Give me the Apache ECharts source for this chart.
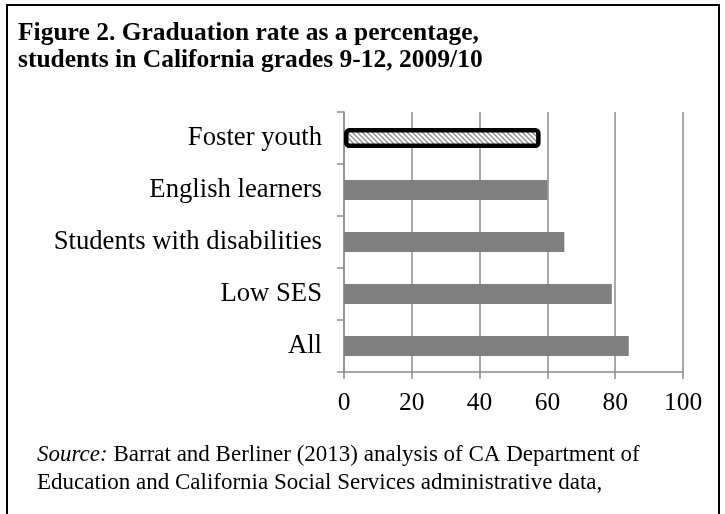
<!DOCTYPE html>
<html>
<head>
<meta charset="UTF-8">
<title>Graduation rate</title>
<script type="text/javascript" src="https://cdn.jsdelivr.net/npm/echarts@6/dist/echarts.min.js"></script>
<style>
	body { margin: 0; background: #fff; }
</style>
</head>
<body>
<div id="main" style="width: 725px; height: 514px"></div>

<script type="text/javascript">
	// data
	var groups = ['Foster youth', 'English learners', 'Students with disabilities', 'Low SES', 'All'];
	var rates = [58, 60, 65, 79, 84];
	var xTicks = [0, 20, 40, 60, 80, 100];

	// hatch fill for the foster youth bar
	function makeHatch() {
		var c = document.createElement('canvas');
		c.width = 5; c.height = 5;
		var ctx = c.getContext('2d');
		ctx.fillStyle = '#fff';
		ctx.fillRect(0, 0, 5, 5);
		ctx.strokeStyle = '#8f8f8f';
		ctx.lineWidth = 1.4;
		ctx.beginPath();
		ctx.moveTo(-1, -1); ctx.lineTo(6, 6);
		ctx.moveTo(-6, -1); ctx.lineTo(1, 6);
		ctx.moveTo(4, -1); ctx.lineTo(11, 6);
		ctx.stroke();
		return c;
	}
	var hatch = makeHatch();

	var barData = [];
	for (var i = 0; i < groups.length; i++) {
		if (i == 0) {
			barData.push({
				value: rates[i],
				itemStyle: {
					color: { image: hatch, repeat: 'repeat' },
					borderColor: '#000',
					borderWidth: 4.5,
					borderRadius: 3
				}
			});
		} else {
			barData.push(rates[i]);
		}
	}

	var mychart = echarts.init(document.getElementById('main'));
	var font = 'Liberation Serif';
	var option = {
		animation: false,
		backgroundColor: '#fff',
		title: {
			text: 'Figure 2. Graduation rate as a percentage,\nstudents in California grades 9-12, 2009/10',
			left: 13,
			top: 15,
			textStyle: {
				fontFamily: font,
				fontSize: 25.5,
				fontWeight: 'bold',
				color: '#000',
				lineHeight: 27
			}
		},
		graphic: [{
			type: 'rect',
			shape: { x: 7, y: 5, width: 712, height: 530 },
			style: { fill: null, stroke: '#000', lineWidth: 2 },
			silent: true
		}, {
			type: 'text',
			left: 37,
			top: 441,
			style: {
				text: '{i|Source:} Barrat and Berliner (2013) analysis of CA Department of\nEducation and California Social Services administrative data,',
				fontFamily: font,
				fontSize: 23,
				lineHeight: 28,
				fill: '#000',
				rich: {
					i: { fontFamily: font, fontSize: 23, fontStyle: 'italic', lineHeight: 28 }
				}
			}
		}],
		grid: {
			left: 344,
			right: 42,
			top: 112,
			bottom: 142
		},
		xAxis: {
			type: 'value',
			min: 0,
			max: 100,
			interval: 20,
			axisLine: { show: true, lineStyle: { color: '#8c8c8c', width: 1.5 } },
			axisTick: { show: true, length: 7, lineStyle: { color: '#8c8c8c', width: 1.5 } },
			splitLine: { show: true, lineStyle: { color: '#8c8c8c', width: 1.5 } },
			axisLabel: {
				fontFamily: font,
				fontSize: 25.5,
				color: '#000',
				margin: 18
			}
		},
		yAxis: {
			type: 'category',
			inverse: true,
			data: groups,
			axisLine: { show: true, lineStyle: { color: '#8c8c8c', width: 1.5 } },
			axisTick: { show: true, length: 7, lineStyle: { color: '#8c8c8c', width: 1.5 } },
			axisLabel: {
				fontFamily: font,
				fontSize: 26.7,
				color: '#000',
				margin: 22
			}
		},
		series: [{
			type: 'bar',
			data: barData,
			barWidth: 20,
			itemStyle: { color: '#808080' }
		}]
	};
	mychart.setOption(option);
</script>
</body>
</html>
